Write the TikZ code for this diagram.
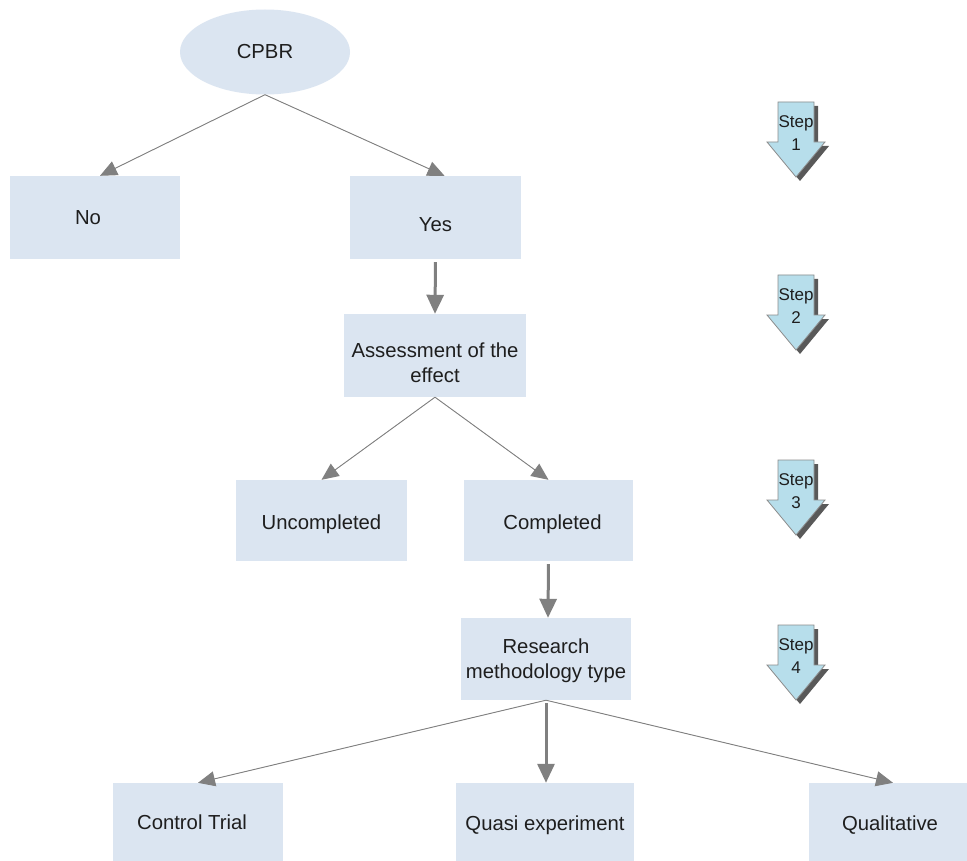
\documentclass[tikz,border=0pt]{standalone}
\usepackage{fontspec}
\setmainfont{Liberation Sans}
\usetikzlibrary{arrows.meta,shapes.geometric}
\definecolor{boxfill}{RGB}{219,229,241}
\definecolor{stepfill}{RGB}{183,222,235}
\definecolor{linegray}{RGB}{128,128,128}
\definecolor{stepedge}{RGB}{140,140,140}
\definecolor{textgray}{RGB}{30,30,30}
\tikzset{
  box/.style={rectangle, fill=boxfill, inner sep=0pt, font=\fontsize{20.3}{25.5}\selectfont, text=textgray, align=center},
  link/.style={draw=linegray, line width=0.9pt, -{Triangle[length=17pt,width=15pt]}, fill=linegray},
  biglink/.style={draw=linegray, line width=3pt, -{Triangle[length=19pt,width=17pt]}, shorten <=3pt},
  steptext/.style={inner sep=0pt, font=\fontsize{17}{23}\selectfont, text=textgray, align=center},
}
\newcommand\drawstep[3]{%
  \fill[black!65,shift={(4,4)}] (778,#2) -- (814,#2) -- (814,#2+40) -- (825,#2+40) -- (796,#2+75) -- (767,#2+40) -- (778,#2+40) -- cycle;
  \filldraw[fill=stepfill, draw=stepedge, line width=0.8pt] (778,#2) -- (814,#2) -- (814,#2+40) -- (825,#2+40) -- (796,#2+75) -- (767,#2+40) -- (778,#2+40) -- cycle;
  \node[steptext] (#1) at (796,#2+31) {Step\\#3};
}
\begin{document}
\begin{tikzpicture}[x=1pt,y=-1pt]
\useasboundingbox (0,0) rectangle (967,861);
\fill[white] (0,0) rectangle (967,861);

\node[ellipse, fill=boxfill, inner sep=0pt, minimum width=170pt, minimum height=85pt, font=\fontsize{20.3}{25.5}\selectfont, text=textgray] (cpbr) at (265,52) {CPBR};

\node[box, minimum width=170pt, minimum height=83pt] (no) at (95,217.5) {\kern-14pt No};
\node[box, minimum width=171pt, minimum height=83pt, text height=28pt, text depth=0pt] (yes) at (435.5,217.5) {Yes};
\node[box, minimum width=182pt, minimum height=83pt] (assess) at (435,355.5) {\rule{0pt}{29pt}Assessment of the\\effect};
\node[box, minimum width=171pt, minimum height=81pt, text height=21pt, text depth=4pt] (uncomp) at (321.5,520.5) {Uncompleted};
\node[box, minimum width=169pt, minimum height=81pt, text height=21pt, text depth=4pt] (comp) at (548.5,520.5) {Completed\kern-8pt};
\node[box, minimum width=170pt, minimum height=82pt] (research) at (546,659) {\rule{0pt}{18pt}Research\\methodology type};
\node[box, minimum width=170pt, minimum height=78pt] (control) at (198,822) {\kern-12pt Control Trial};
\node[box, minimum width=178pt, minimum height=78pt, text height=21pt, text depth=4pt] (quasi) at (545,822) {Quasi experiment};
\node[box, minimum width=162pt, minimum height=78pt, text height=21pt, text depth=4pt] (qual) at (890,822) {Qualitative};

\draw[link] (cpbr.south) -- ([xshift=5pt]no.north);
\draw[link] (cpbr.south) -- ([xshift=9pt]yes.north);
\draw[biglink] (yes.south) -- (assess.north);
\draw[link] (assess.south) -- (uncomp.north);
\draw[link] (assess.south) -- (comp.north);
\draw[biglink] (comp.south) -- ([xshift=2pt]research.north);
\draw[link] (research.south) -- (control.north);
\draw[biglink] (research.south) -- ([xshift=1pt]quasi.north);
\draw[link] (research.south) -- ([xshift=3pt]qual.north);

\drawstep{step1}{102}{1}
\drawstep{step2}{275}{2}
\drawstep{step3}{460}{3}
\drawstep{step4}{625}{4}
\end{tikzpicture}
\end{document}
